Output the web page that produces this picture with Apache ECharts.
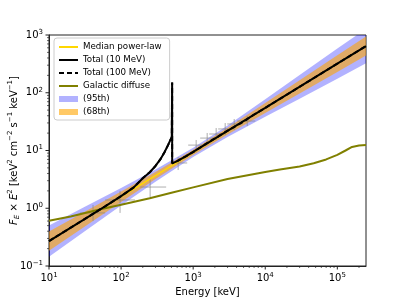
<!DOCTYPE html>
<html><head><meta charset="utf-8">
<script src="https://cdn.jsdelivr.net/npm/echarts@6/dist/echarts.min.js"></script>
<style>html,body{margin:0;padding:0;background:#fff}#c{width:407px;height:305px}</style>
</head><body><div id="c"></div>
<script>
// ---- data ----
const medianE = [10, 250000];
const medianF = [0.27, 644];

const totalE = [10, 30, 60, 100, 150, 200, 250, 300, 350, 400, 450, 480, 505, 511, 511.5, 600, 800, 1000, 3000, 10000, 100000, 250000];
const totalF = [0.27, 0.63, 1.08, 1.62, 2.3, 3.3, 4.2, 5.4, 7.0, 9.3, 12.5, 15.0, 17.0, 150, 6.0, 6.55, 8.0, 9.5, 21.8, 54.5, 319, 644];

const total100E = [10, 30, 60, 100, 150, 200, 250, 300, 350, 400, 450, 480, 505, 511, 511.5, 600, 800, 1000, 1500, 2000, 3000, 5000, 7000, 10000, 100000, 250000];
const total100F = [0.27, 0.63, 1.08, 1.62, 2.3, 3.3, 4.2, 5.4, 7.0, 9.3, 12.5, 15.0, 17.0, 150, 6.0, 6.55, 8.0, 9.4, 13.0, 16.2, 22.0, 31.5, 42.0, 54.6, 319, 644];

const galE = [10, 20, 50, 100, 250, 500, 1000, 3000, 10000, 16000, 30000, 47000, 70000, 100000, 130000, 160000, 200000, 250000];
const galF = [0.61, 0.72, 0.95, 1.15, 1.49, 1.85, 2.3, 3.2, 4.25, 4.7, 5.3, 6.0, 7.0, 8.4, 10.0, 11.5, 12.2, 12.4];

const bandE  = [10, 30, 100, 300, 1000, 3000, 10000, 30000, 100000, 250000];
const b95lo  = [0.145, 0.385, 1.113, 2.89, 7.72, 17.2, 38.5, 78.6, 175, 323];
const b95hi  = [0.503, 1.026, 2.24, 4.69, 11.15, 27.2, 76.9, 202, 581, 1285];
const b68lo  = [0.184, 0.466, 1.278, 3.20, 8.37, 18.9, 44.7, 96.7, 228, 440];
const b68hi  = [0.396, 0.847, 1.953, 4.24, 10.29, 24.7, 66.2, 164, 445, 942];

const ptE   = [40.8, 96.8, 253, 619, 1101, 1565, 2085, 2782, 3710, 5623];
const ptF   = [0.83, 1.39, 2.33, 6.08, 12.4, 16.4, 19.3, 23.6, 28.8, 32.4];
const ptElo = [27, 60, 184, 479, 853, 1251, 1668, 2223, 2965, 4084];
const ptEhi = [60, 156, 422, 826, 1565, 1958, 2528, 3483, 4797, 7263];
const ptFlo = [0.60, 0.83, 1.50, 4.59, 9.4, 13.0, 15.2, 18.5, 22.6, 26.5];
const ptFhi = [1.14, 2.0, 3.34, 7.7, 15.2, 20.1, 24.5, 29.9, 35.1, 39.5];

const xTicks = [10, 100, 1000, 10000, 100000];
const yTicks = [0.1, 1, 10, 100, 1000];
const xMin = 10, xMax = 250000, yMin = 0.1, yMax = 1000;

// ---- helpers ----
const FONT = 'DejaVu Sans';
function zip(a, b) { return a.map((v, i) => [v, b[i]]); }
function minors(lo, hi) {
  const out = [];
  for (let d = Math.floor(Math.log10(lo)); d <= Math.ceil(Math.log10(hi)); d++) {
    for (let k = 2; k <= 9; k++) { const v = k * Math.pow(10, d); if (v > lo && v < hi) out.push(v); }
  }
  return out;
}
const xMinor = minors(xMin, xMax), yMinor = minors(yMin, yMax);
function expLabel(v) {
  const e = Math.log10(v); const r = Math.round(e);
  if (Math.abs(e - r) > 1e-6) return '';
  return '10{sup|' + String(r).replace('-', '\u2212') + '}';
}
function bandSeries(name, lo, hi, color) {
  return {
    name, type: 'custom', coordinateSystem: 'cartesian2d', clip: true, z: 1,
    itemStyle: { color }, silent: true,
    data: [[bandE[0], lo[0]]],
    renderItem(params, api) {
      const pts = [];
      for (let i = 0; i < bandE.length; i++) pts.push(api.coord([bandE[i], hi[i]]));
      for (let i = bandE.length - 1; i >= 0; i--) pts.push(api.coord([bandE[i], lo[i]]));
      const cs = params.coordSys;
      return { type: 'polygon', shape: { points: pts }, style: { fill: color },
        clipPath: { type: 'rect', shape: { x: cs.x, y: cs.y, width: cs.width, height: cs.height } } };
    }
  };
}
const noSym = { opacity: 0 };

const chart = echarts.init(document.getElementById('c'), null, { renderer: 'canvas' });
chart.setOption({
  animation: false,
  backgroundColor: '#fff',
  grid: { left: 49, right: 41, top: 35, bottom: 39, show: true, borderColor: '#222', borderWidth: 1,
    backgroundColor: 'transparent', containLabel: false, outerBoundsMode: 'none' },
  xAxis: {
    type: 'log', logBase: 10, min: xMin, max: xMax,
    axisLine: { show: true, lineStyle: { color: '#222', width: 1 } },
    axisTick: { show: false }, splitLine: { show: false },
    axisLabel: { margin: 6, fontFamily: FONT, fontSize: 10, color: '#000', lineHeight: 13,
      formatter: expLabel, showMaxLabel: false, hideOverlap: false,
      rich: { sup: { fontSize: 7, lineHeight: 8, verticalAlign: 'top', fontFamily: FONT, color: '#000' } } },
    name: 'Energy [keV]', nameLocation: 'middle', nameGap: 21, nameMoveOverlap: false,
    nameTextStyle: { fontFamily: FONT, fontSize: 10, color: '#000' }
  },
  yAxis: {
    type: 'log', logBase: 10, min: yMin, max: yMax,
    axisLine: { show: true, lineStyle: { color: '#222', width: 1 } },
    axisTick: { show: false }, splitLine: { show: false },
    axisLabel: { margin: 6, fontFamily: FONT, fontSize: 10, color: '#000', lineHeight: 13,
      formatter: expLabel, hideOverlap: false,
      rich: { sup: { fontSize: 7, lineHeight: 8, verticalAlign: 'top', fontFamily: FONT, color: '#000' } } },
    name: '{i|F}{sub|E} \u00d7 {i|E}{sup|2} [keV{sup|2} cm{sup|\u22122} s{sup|\u22121} keV{sup|\u22121}]',
    nameLocation: 'middle', nameRotate: 90, nameGap: 28, nameMoveOverlap: false,
    nameTextStyle: { fontFamily: FONT, fontSize: 10, color: '#000', lineHeight: 14,
      rich: {
        i: { fontStyle: 'italic', fontFamily: FONT, fontSize: 10, lineHeight: 14, color: '#000' },
        sub: { fontStyle: 'italic', fontFamily: FONT, fontSize: 7, lineHeight: 8, verticalAlign: 'bottom', color: '#000' },
        sup: { fontFamily: FONT, fontSize: 7, lineHeight: 8, verticalAlign: 'top', color: '#000' }
      } }
  },
  legend: {
    orient: 'vertical', left: 54, top: 38, itemWidth: 19, itemHeight: 6, itemGap: 3,
    padding: [4, 8, 3, 4], borderColor: '#ccc', borderWidth: 1, borderRadius: 3,
    backgroundColor: 'rgba(255,255,255,0.85)',
    textStyle: { fontFamily: FONT, fontSize: 8.7, color: '#000', lineHeight: 10 },
    data: [
      { name: 'Median power-law', itemStyle: noSym },
      { name: 'Total (10 MeV)', itemStyle: noSym },
      { name: 'Total (100 MeV)', itemStyle: noSym },
      { name: 'Galactic diffuse', itemStyle: noSym },
      { name: '(95th)', icon: 'rect' },
      { name: '(68th)', icon: 'rect' }
    ]
  },
  series: [
    bandSeries('(95th)', b95lo, b95hi, 'rgba(0,0,255,0.3)'),
    bandSeries('(68th)', b68lo, b68hi, 'rgba(255,165,0,0.6)'),
    {
      name: 'data', type: 'custom', coordinateSystem: 'cartesian2d', z: 2, silent: true,
      data: ptE.map((e, i) => [e, ptF[i], ptElo[i], ptEhi[i], ptFlo[i], ptFhi[i]]),
      encode: { x: 0, y: 1 },
      renderItem(params, api) {
        const e = api.value(0), f = api.value(1);
        const a = api.coord([api.value(2), f]), b = api.coord([api.value(3), f]);
        const c = api.coord([e, api.value(4)]), d = api.coord([e, api.value(5)]);
        const st = { stroke: 'rgba(130,130,130,0.65)', lineWidth: 1 };
        return { type: 'group', children: [
          { type: 'line', shape: { x1: a[0], y1: a[1], x2: b[0], y2: b[1] }, style: st },
          { type: 'line', shape: { x1: c[0], y1: c[1], x2: d[0], y2: d[1] }, style: st }
        ] };
      }
    },
    { name: 'Galactic diffuse', type: 'line', z: 3, data: zip(galE, galF), symbol: 'none', smooth: false,
      lineStyle: { color: '#808000', width: 2 }, itemStyle: { color: '#808000' } },
    { name: 'Median power-law', type: 'line', z: 4, data: zip(medianE, medianF), symbol: 'none',
      lineStyle: { color: '#FFD700', width: 1.5 }, itemStyle: { color: '#FFD700' } },
    { name: 'Total (100 MeV)', type: 'line', z: 5, data: zip(total100E, total100F), symbol: 'none',
      lineStyle: { color: '#000', width: 2, type: [5, 3] }, itemStyle: { color: '#000' } },
    { name: 'Total (10 MeV)', type: 'line', z: 6, data: zip(totalE, totalF), symbol: 'none',
      lineStyle: { color: '#000', width: 2 }, itemStyle: { color: '#000' } },
    {
      name: 'ticks', type: 'custom', coordinateSystem: 'cartesian2d', z: 10, silent: true, clip: false,
      data: [[xMin, yMin]],
      renderItem(params, api) {
        const ch = [];
        const st = { stroke: '#222', lineWidth: 1 };
        xTicks.forEach(v => { const p = api.coord([v, yMin]); ch.push({ type: 'line', shape: { x1: p[0], y1: p[1], x2: p[0], y2: p[1] + 3.5 }, style: st }); });
        xMinor.forEach(v => { const p = api.coord([v, yMin]); ch.push({ type: 'line', shape: { x1: p[0], y1: p[1], x2: p[0], y2: p[1] + 2 }, style: { stroke: '#222', lineWidth: 0.7 } }); });
        yTicks.forEach(v => { const p = api.coord([xMin, v]); ch.push({ type: 'line', shape: { x1: p[0] - 3.5, y1: p[1], x2: p[0], y2: p[1] }, style: st }); });
        yMinor.forEach(v => { const p = api.coord([xMin, v]); ch.push({ type: 'line', shape: { x1: p[0] - 2, y1: p[1], x2: p[0], y2: p[1] }, style: { stroke: '#222', lineWidth: 0.7 } }); });
        return { type: 'group', children: ch };
      }
    }
  ]
});
</script>
</body></html>
